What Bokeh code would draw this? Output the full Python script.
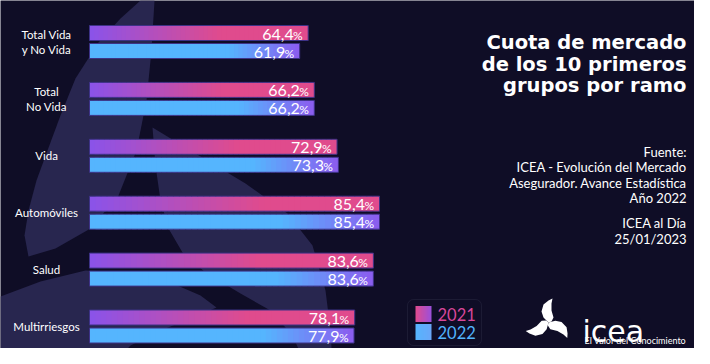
import numpy as np
from bokeh.plotting import figure
from bokeh.models import Range1d, BoxAnnotation
from bokeh.core.properties import value
from bokeh.embed import file_html
from bokeh.resources import INLINE

# ---------------- data ----------------
categories = ["Total Vida\ny No Vida", "Total\nNo Vida", "Vida", "Automóviles", "Salud", "Multirriesgos"]
values_2021 = [64.4, 66.2, 72.9, 85.4, 83.6, 78.1]
values_2022 = [61.9, 66.2, 73.3, 85.4, 83.6, 77.9]
years = ["2021", "2022"]
title_lines = ["Cuota de mercado", "de los 10 primeros", "grupos por ramo"]
source_lines = ["Fuente:", "ICEA - Evolución del Mercado", "Asegurador. Avance Estadística",
                "Año 2022", "ICEA al Día", "25/01/2023"]

# ---------------- style ----------------
W, H = 694, 348
BG = "#0f0d26"
SHAPE = "#28264f"
FONT = value("Lato")
C21_A, C21_B = "#8a53ea", "#e04b8d"
C22_A, C22_B = "#55b5fe", "#8c5bef"
TXT21, TXT22 = "#d9479a", "#52b3fc"
SCALE = 290 / 85.4          # px per percentage point
X0 = 89                     # px position of 0 %
GAP = 56.9                  # px between groups
Y0 = 41.5                   # px centre of first group

p = figure(width=W, height=H, output_backend="svg", toolbar_location=None,
           x_range=Range1d(-X0 / SCALE, (W - X0) / SCALE),
           y_range=Range1d((H - Y0) / GAP, -Y0 / GAP),
           x_axis_type=None, y_axis_type=None, min_border=0)
p.extra_x_ranges = {"px": Range1d(0, W)}
p.extra_y_ranges = {"py": Range1d(H, 0)}
p.grid.visible = False
p.outline_line_color = None
p.background_fill_color = BG
p.border_fill_color = BG


def hex2rgb(h):
    h = h.lstrip("#")
    return np.array([int(h[i:i + 2], 16) for i in (0, 2, 4)], dtype=float)


def mix(c1, c2, t):
    a, b = hex2rgb(c1), hex2rgb(c2)
    c = a + (b - a) * np.clip(t, 0, 1)
    return "#%02x%02x%02x" % tuple(int(round(v)) for v in c)


# ---------------- background logo shapes ----------------
bgA = [(140, 0), (154, 0), (151, 50), (146, 100), (136, 150), (118, 195), (90, 228), (55, 248),
       (28, 256), (24, 235), (28, 210), (36, 180), (47, 150), (60, 115), (75, 78), (98, 42), (120, 18)]
bgB = [(152, 127), (195, 153), (245, 183), (287, 213), (312, 245), (325, 290), (330, 330), (332, 364),
       (305, 364), (292, 335), (270, 310), (240, 293), (205, 272), (182, 252), (168, 228), (160, 200),
       (155, 165)]
bgC = [(0, 296), (40, 281), (85, 270), (130, 272), (170, 282), (200, 295), (216, 307), (195, 316),
       (160, 330), (130, 345), (112, 364), (0, 364)]
for poly in (bgA, bgB, bgC):
    p.patch([q[0] for q in poly], [q[1] for q in poly], x_range_name="px", y_range_name="py",
            fill_color=SHAPE, line_color=None)

# ---------------- bars (gradient made of thin slices) ----------------
N = 48
half = 7.5 / GAP
off = 9.0 / GAP
L, R, T, B, COL = [], [], [], [], []
for i, (v1, v2) in enumerate(zip(values_2021, values_2022)):
    for v, yc, yr in ((v1, i - off, 0), (v2, i + off, 1)):
        for k in range(N):
            t = (k + 0.5) / N
            if yr == 0:
                col = mix(C21_A, C21_B, t / 0.6)
            else:
                col = mix(C22_A, C22_B, (t - 0.66) / 0.34)
            L.append(v * k / N)
            R.append(min(v * (k + 1.8) / N, v))
            T.append(yc - half)
            B.append(yc + half)
            COL.append(col)
p.quad(left=L, right=R, top=T, bottom=B, fill_color=COL, line_color=None)

idx = np.arange(len(categories))
all_v = values_2021 + values_2022
all_y = list(idx - off) + list(idx + off)
p.quad(left=[0] * len(all_v), right=all_v, top=[y - half for y in all_y],
       bottom=[y + half for y in all_y], fill_color=None, line_color="#3d3286", line_width=1)

# value labels
nums = [f"{v:.1f}".replace(".", ",") for v in all_v]
p.text(x=all_v, y=all_y, text=nums, x_offset=-14.5, y_offset=1, text_align="right",
       text_baseline="middle", text_font=FONT, text_font_size="16px", text_color="white")
p.text(x=all_v, y=all_y, text=["%"] * len(all_v), x_offset=-5.5, y_offset=2, text_align="right",
       text_baseline="middle", text_font=FONT, text_font_size="12px", text_color="white")

# category labels
p.text(x=[46] * len(categories), y=list(idx), text=categories, x_range_name="px",
       text_align="center", text_baseline="middle", text_font=FONT, text_font_size="11.5px",
       text_color="white", text_line_height=1.2)

# ---------------- title & source ----------------
p.text(x=[686] * len(title_lines), y=[42 + 21.5 * k for k in range(len(title_lines))],
       text=title_lines, x_range_name="px", y_range_name="py", text_align="right",
       text_baseline="alphabetic", text_font=value("DejaVu Sans"), text_font_size="19.5px",
       text_font_style="bold", text_color="white")
src_y = [151, 166.5, 182, 197.5, 222.5, 238]
p.text(x=[686] * len(source_lines), y=src_y, text=source_lines, x_range_name="px",
       y_range_name="py", text_align="right", text_baseline="middle", text_font=FONT,
       text_font_size="13px", text_color="white")

# ---------------- legend ----------------
p.add_layout(BoxAnnotation(left=407, right=481, top=299, bottom=345, x_range_name="px",
                           y_range_name="py", fill_color=None, fill_alpha=0, level="underlay",
                           line_color="#3c3b55", line_width=1, border_radius=6))
leg_y = [313.5, 331.5]
leg_cols = [(C21_B, "#9a50dc"), (C22_A, "#6aa6f8")]
for yy, (ca, cb) in zip(leg_y, leg_cols):
    M = 8
    p.quad(left=[415 + 16 * k / M for k in range(M)],
           right=[415 + 16 * (k + 1.5) / M if k < M - 1 else 431 for k in range(M)],
           top=[yy - 8] * M, bottom=[yy + 8] * M, x_range_name="px", y_range_name="py",
           fill_color=[mix(ca, cb, (k + 0.5) / M) for k in range(M)], line_color=None)
p.text(x=[437, 437], y=leg_y, text=years, x_range_name="px", y_range_name="py",
       text_align="left", text_baseline="middle", text_font=FONT, text_font_size="16.5px",
       text_color=[TXT21, TXT22])

# ---------------- icea logo ----------------
leaf = np.array([(0, 0), (-5, 5), (-7, 11), (-5, 18), (0, 22), (4, 24), (3, 19), (3, 12), (5, 5), (3, 1)],
                dtype=float)
cx, cy = 548, 322
for ang in (0, 120, 240):
    a = np.deg2rad(ang)
    xs = leaf[:, 0] * np.cos(a) - leaf[:, 1] * np.sin(a)
    ys = leaf[:, 0] * np.sin(a) + leaf[:, 1] * np.cos(a)
    p.patch(list(cx + xs), list(cy - ys), x_range_name="px", y_range_name="py",
            fill_color="white", line_color=None)
p.text(x=[582], y=[331], text=["icea"], x_range_name="px", y_range_name="py",
       text_align="left", text_baseline="alphabetic", text_font=value("DejaVu Sans"),
       text_font_size="30px", text_color="white")
p.text(x=[584], y=[340], text=["El Valor del Conocimiento"], x_range_name="px", y_range_name="py",
       text_align="left", text_baseline="middle", text_font=FONT, text_font_size="9px",
       text_color="white")

open("out.html", "w").write(file_html(p, INLINE))
